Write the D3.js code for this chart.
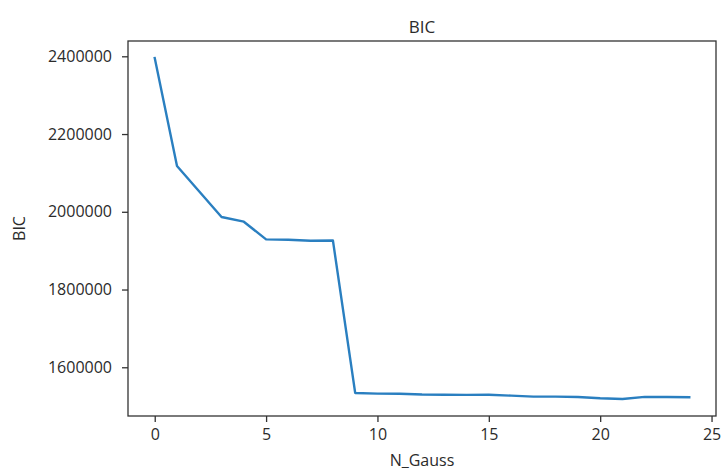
<!DOCTYPE html>
<html>
<head>
<meta charset="utf-8">
<script src="https://cdn.jsdelivr.net/npm/d3@7"></script>
<style>
  html, body { margin: 0; padding: 0; background: #fff; }
  svg { display: block; }
  text { font-family: "Open Sans", "Noto Sans", sans-serif; fill: #2b2b2b; }
</style>
</head>
<body>
<svg id="chart" width="724" height="472"></svg>
<script>
// BIC score for each number of Gaussian components
const nGauss = d3.range(0, 25);
const bicValues = [
  2395500, 2118000, 2052000, 1986500, 1974500, 1929000, 1928000, 1925500, 1926300,
  1534000, 1532300, 1532000, 1530000, 1529500, 1529000, 1529500, 1527000, 1524500,
  1524500, 1523500, 1520300, 1518500, 1523800, 1523500, 1523000
];
const xTicks = [0, 5, 10, 15, 20, 25];
const yTicks = [1600000, 1800000, 2000000, 2200000, 2400000];

const plot = { left: 128, right: 716, top: 41, bottom: 416 };

const svg = d3.select("#chart");

// matplotlib-style 5% padding around the data range
const xMin = d3.min(nGauss), xMax = d3.max(nGauss);
const xPad = (xMax - xMin) * 0.05;
const yMin = d3.min(bicValues), yMax = d3.max(bicValues);
const yPad = (yMax - yMin) * 0.05;

const x = d3.scaleLinear().domain([xMin - xPad, xMax + xPad]).range([plot.left, plot.right]);
const y = d3.scaleLinear().domain([yMin - yPad, yMax + yPad]).range([plot.bottom, plot.top]);

// data line
const line = d3.line().x((d, i) => x(nGauss[i])).y(d => y(d));
svg.append("path")
  .datum(bicValues)
  .attr("d", line)
  .attr("fill", "none")
  .attr("stroke", "#2a7fc0")
  .attr("stroke-width", 2.4)
  .attr("stroke-linejoin", "round")
  .attr("stroke-linecap", "square");

// axes
const xAxis = svg.append("g")
  .attr("transform", `translate(0,${plot.bottom})`)
  .call(d3.axisBottom(x).tickValues(xTicks).tickFormat(d3.format("d")).tickSize(6).tickPadding(7));
const yAxis = svg.append("g")
  .attr("transform", `translate(${plot.left},0)`)
  .call(d3.axisLeft(y).tickValues(yTicks).tickFormat(d3.format("d")).tickSize(6).tickPadding(10));

[xAxis, yAxis].forEach(g => {
  g.select(".domain").remove();
  g.selectAll(".tick line").attr("stroke", "#333").attr("stroke-width", 1.3);
  g.selectAll(".tick text").attr("font-size", 16).style("fill", "#2b2b2b");
});

// frame around the plotting area
svg.append("rect")
  .attr("x", plot.left).attr("y", plot.top)
  .attr("width", plot.right - plot.left).attr("height", plot.bottom - plot.top)
  .attr("fill", "none").attr("stroke", "#333").attr("stroke-width", 1.3);

// title and axis labels
svg.append("text")
  .attr("x", (plot.left + plot.right) / 2).attr("y", 33)
  .attr("text-anchor", "middle").attr("font-size", 17)
  .text("BIC");
svg.append("text")
  .attr("x", (plot.left + plot.right) / 2).attr("y", 466)
  .attr("text-anchor", "middle").attr("font-size", 16)
  .text("N_Gauss");
svg.append("text")
  .attr("transform", `translate(25,${(plot.top + plot.bottom) / 2}) rotate(-90)`)
  .attr("text-anchor", "middle").attr("font-size", 16)
  .text("BIC");
</script>
</body>
</html>
